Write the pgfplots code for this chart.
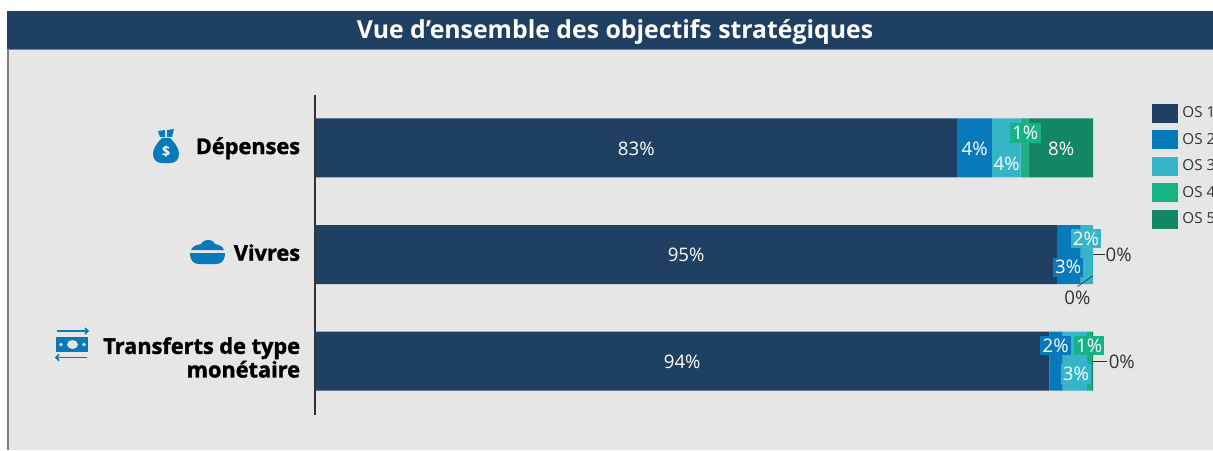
\documentclass[border=0pt]{standalone}
\usepackage{fontspec}
\usepackage{pgfplots}
\pgfplotsset{compat=1.18}
\setmainfont{Open Sans}
\newfontfamily\catfont[BoldFeatures={FakeBold=1.5}]{Open Sans}

\definecolor{bgpanel}{HTML}{E6E6E6}
\definecolor{os1}{HTML}{1F3F63}
\definecolor{os2}{HTML}{087ABB}
\definecolor{os3}{HTML}{37B5C8}
\definecolor{os4}{HTML}{17B385}
\definecolor{os5}{HTML}{148565}
\definecolor{txt}{HTML}{333333}

\newcommand{\lab}[4]{\node[font=\fontsize{14}{15}\selectfont,text=#3,inner sep=0pt,yshift=-0.6pt] at (axis cs:#1,#2) {#4};}
\newcommand{\boxlab}[4]{\node[font=\fontsize{14}{15}\selectfont,text=white,fill=#3,inner sep=0pt,minimum width=23pt,minimum height=14.5pt] at (axis cs:#1,#2) {#4};}

\begin{document}
\begin{tikzpicture}[x=0.75pt,y=-0.75pt]
\path[use as bounding box] (0,0) rectangle (1213,450);
\clip (0,0) rectangle (1213,450);
\fill[white] (0,0) rectangle (1213,450);
\fill[bgpanel] (7,49) rectangle (1213,450);
\draw[gray,line width=1.2pt] (7.8,49) -- (7.8,450);
\fill[os1] (7,11) rectangle (1213,49);
\draw[gray,line width=0.8pt] (7,49.5) -- (1213,49.5);
\node[text=white,font=\fontsize{18.6}{20}\bfseries\selectfont] at (615,31.5) {Vue d’ensemble des objectifs stratégiques};

% money bag
\fill[os2] (162,138) -- (170,138) .. controls (176,144) and (179,149) .. (179,154) .. controls (179,160) and (175,163) .. (170,163)
  -- (162,163) .. controls (157,163) and (153,160) .. (153,154) .. controls (153,149) and (156,144) .. (162,138) -- cycle;
\fill[os2] (158,131) -- (165,130) -- (165,137) -- (160,137) -- cycle;
\fill[os2] (167,137) -- (167,130) -- (174,129) -- (172,137) -- cycle;
\node[text=white,font=\fontsize{10.5}{10}\bfseries\selectfont,inner sep=0pt] at (166,151.5) {\$};
% bowl
\fill[os2] (191,250) .. controls (193,245) and (198,245) .. (201,244) .. controls (203,239) and (213,238) .. (215,244)
  .. controls (219,245) and (223,246) .. (224,250) -- cycle;
\fill[os2] (190,253) -- (225,253) .. controls (225,261) and (221,264) .. (216,264) -- (199,264) .. controls (194,264) and (190,261) .. (190,253) -- cycle;
% banknote
\fill[os2] (56,337) rectangle (88,352);
\fill[bgpanel] (72.5,344.5) ellipse (5.5 and 4.5);
\fill[bgpanel] (61,344.5) circle (1.8);
\fill[bgpanel] (84,344.5) circle (1.8);
\draw[os2,line width=1.1pt] (57,331) -- (88,331);
\draw[os2,line width=1.1pt] (85,328) -- (88,331) -- (85,334);
\draw[os2,line width=1.1pt] (56,357.5) -- (87,357.5);
\draw[os2,line width=1.1pt] (59,354.5) -- (56,357.5) -- (59,360.5);

\coordinate (ax) at (315,94.5);
\begin{axis}[
    at={(ax)}, anchor=north west,
    scale only axis,
    width=583.5pt, height=240pt,
    xbar stacked,
    bar width=44.25pt,
    xmin=0, xmax=100,
    ymin=-0.5, ymax=2.5,
    y dir=reverse,
    clip=false,
    axis x line=none,
    axis y line=left,
    y axis line style={-, color=txt, line width=0.8pt},
    ytick={0,1,2},
    yticklabels={Dépenses,Vivres,{\raisebox{0.6pt}[0pt][0pt]{\begin{tabular}{@{}r@{}}Transferts de type\\monétaire\end{tabular}}}},
    major tick length=0pt,
    yticklabel style={font=\catfont\bfseries\fontsize{16.3}{17.3}\selectfont,text=black,inner sep=0pt,xshift=-11pt,yshift=-0.4pt,text height=12pt,text depth=3.5pt},
    legend style={at={(1.0752,0.972)},anchor=north west,draw=none,fill=none,inner sep=0pt,
      font=\fontsize{11.4}{12}\selectfont,text=txt,row sep=5.7pt,column sep=3.5pt,
      nodes={inner sep=0pt,anchor=west}},
    legend cell align=left,
    legend image code/.code={\fill[#1] (0pt,-7.1pt) rectangle (19.5pt,7.1pt);},
    after end axis/.code={
      \lab{41.3}{0}{white}{83\%}
      \lab{84.8}{0}{white}{4\%}
      \lab{88.9}{0.14}{white}{4\%}
      \boxlab{91.3}{-0.14}{os4}{1\%}
      \lab{95.9}{0}{white}{8\%}
      \lab{47.7}{0.994}{white}{95\%}
      \boxlab{99.1}{0.85}{os3}{2\%}
      \boxlab{96.8}{1.12}{os2}{3\%}
      \lab{103.3}{0.994}{txt}{0\%}
      \lab{98.0}{1.40}{txt}{0\%}
      \draw[txt,line width=0.5pt] (axis cs:100,1.0) -- (axis cs:101.5,1.0);
      \draw[txt,line width=0.5pt] (axis cs:100,1.2) -- (axis cs:98,1.3);
      \lab{47.2}{2.0}{white}{94\%}
      \boxlab{95.2}{1.855}{os2}{2\%}
      \boxlab{99.5}{1.855}{os4}{1\%}
      \boxlab{97.8}{2.12}{os3}{3\%}
      \lab{103.7}{2.0}{txt}{0\%}
      \draw[txt,line width=0.5pt] (axis cs:99.9,2.0) -- (axis cs:101.8,2.0);
    },
]
\addplot[draw=none,fill=os1] coordinates {(82.5,0) (95.4,1) (94.4,2)};
\addplot[draw=none,fill=os2] coordinates {(4.5,0) (3.0,1) (1.7,2)};
\addplot[draw=none,fill=os3] coordinates {(3.7,0) (1.6,1) (3.1,2)};
\addplot[draw=none,fill=os4] coordinates {(1.0,0) (0.0,1) (0.7,2)};
\addplot[draw=none,fill=os5] coordinates {(8.3,0) (0.0,1) (0.1,2)};
\legend{OS 1,OS 2,OS 3,OS 4,OS 5}
\end{axis}
\end{tikzpicture}
\end{document}
